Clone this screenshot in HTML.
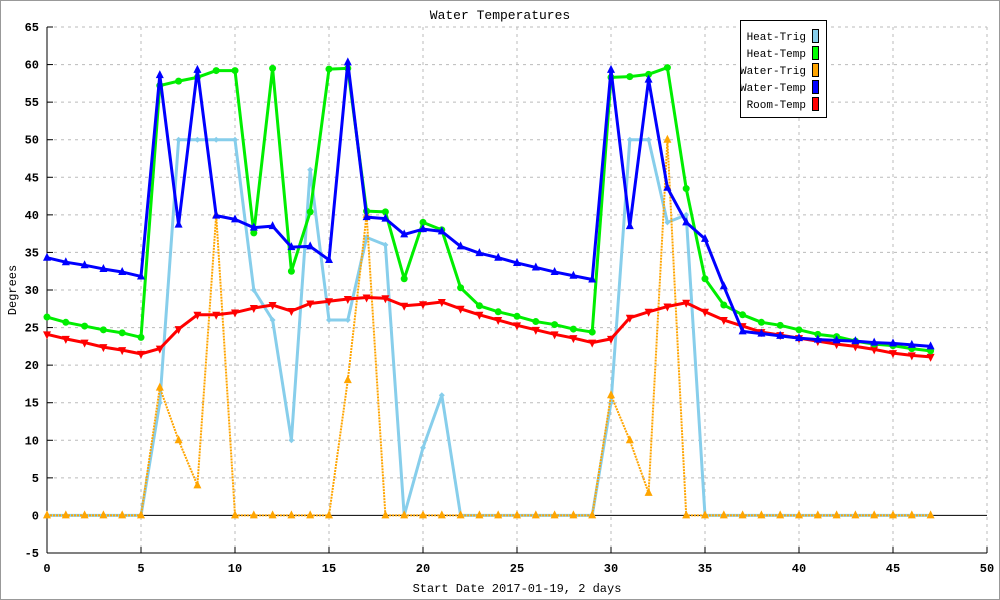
<!DOCTYPE html>
<html><head><meta charset="utf-8"><style>
body{margin:0;background:#fff}
svg{display:block;font-family:"Liberation Mono",monospace}
</style></head><body>
<svg id="chart" width="1000" height="600" xmlns="http://www.w3.org/2000/svg">
<rect x="0.5" y="0.5" width="999" height="599" fill="#fff" stroke="#999"/>
<text x="500" y="19" text-anchor="middle" font-size="13">Water Temperatures</text>
<g id="grid"></g>
<g id="axes"></g>
<g id="series"></g>
<text x="517" y="592" text-anchor="middle" font-size="12">Start Date 2017-01-19, 2 days</text>
<text transform="translate(16,290) rotate(-90)" text-anchor="middle" font-size="12">Degrees</text>
<g id="legend"></g>
</svg>
<script>
const xTicks=[0,5,10,15,20,25,30,35,40,45,50];
const yTicks=[-5,0,5,10,15,20,25,30,35,40,45,50,55,60,65];
const heatTrig=[0,0,0,0,0,0,15,50,50,50,50,30,26,10,46,26,26,37,36,0,9,16,0,0,0,0,0,0,0,0,15,50,50,39,40,0,0,0,0,0,0,0,0,0,0,0,0,0];
const heatTemp=[26.4,25.7,25.2,24.7,24.3,23.7,57.2,57.8,58.3,59.2,59.2,37.6,59.5,32.5,40.4,59.4,59.5,40.5,40.4,31.5,39,38,30.3,27.9,27.1,26.5,25.8,25.4,24.8,24.4,58.3,58.4,58.7,59.6,43.5,31.5,28,26.7,25.7,25.3,24.7,24.1,23.8,23.2,22.8,22.6,22.2,21.9];
const waterTrig=[0,0,0,0,0,0,17,10,4,40,0,0,0,0,0,0,18,40,0,0,0,0,0,0,0,0,0,0,0,0,16,10,3,50,0,0,0,0,0,0,0,0,0,0,0,0,0,0];
const waterTemp=[34.3,33.7,33.3,32.8,32.4,31.8,58.6,38.7,59.3,39.9,39.4,38.3,38.5,35.7,35.8,34,60.3,39.7,39.5,37.4,38.1,37.8,35.8,34.9,34.3,33.6,33,32.4,31.9,31.4,59.3,38.5,58,43.6,39,36.8,30.5,24.5,24.2,23.9,23.6,23.4,23.3,23.2,23,22.9,22.7,22.5];
const roomTemp=[24.1,23.5,23,22.4,22,21.5,22.2,24.8,26.7,26.7,27,27.6,28,27.2,28.2,28.5,28.8,29,28.9,27.9,28.1,28.4,27.5,26.7,26,25.3,24.7,24.1,23.6,23,23.5,26.3,27.1,27.8,28.3,27.1,26,25.2,24.4,24,23.6,23.2,22.8,22.5,22.1,21.6,21.3,21.1];
const legendNames=["Heat-Trig","Heat-Temp","Water-Trig","Water-Temp","Room-Temp"];

const NS="http://www.w3.org/2000/svg";
const X0=47,X1=987,Y0=553,Y1=27,XMIN=0,XMAX=50,YMIN=-5,YMAX=65;
const sx=v=>X0+(v-XMIN)/(XMAX-XMIN)*(X1-X0);
const sy=v=>Y0-(v-YMIN)/(YMAX-YMIN)*(Y0-Y1);
function mk(tag,attrs,parent){const e=document.createElementNS(NS,tag);for(const k in attrs)e.setAttribute(k,attrs[k]);parent.appendChild(e);return e;}
const grid=document.getElementById('grid'),axes=document.getElementById('axes'),ser=document.getElementById('series'),leg=document.getElementById('legend');

xTicks.forEach(t=>{
  if(t>0){const l=mk('line',{x1:sx(t),x2:sx(t),y1:Y1,y2:Y0,stroke:'#bbb','stroke-dasharray':'3,4'},grid);
  
  }
  const tk=mk('line',{x1:sx(t),x2:sx(t),y1:Y0,y2:Y0-6,stroke:'#000'},axes);
  
  
  const tx=mk('text',{x:sx(t),y:Y0+19,'text-anchor':'middle','font-size':'12','font-weight':'bold'},axes);
  tx.textContent=t;
  
  
});
yTicks.forEach(t=>{
  if(t!==0){const l=mk('line',{x1:X0,x2:X1,y1:sy(t),y2:sy(t),stroke:'#bbb','stroke-dasharray':'3,4'},grid);
  
  }
  const tk=mk('line',{x1:X0,x2:X0+6,y1:sy(t),y2:sy(t),stroke:'#000'},axes);
  
  
  const tx=mk('text',{x:X0-8,y:sy(t)+4,'text-anchor':'end','font-size':'12','font-weight':'bold'},axes);
  tx.textContent=t;
  
  
});
const zl=mk('line',{x1:X0,x2:X1,y1:sy(0),y2:sy(0),stroke:'#000'},axes);


const ya=mk('line',{x1:X0,x2:X0,y1:Y1,y2:Y0,stroke:'#000'},axes);


const xa=mk('line',{x1:X0,x2:X1,y1:Y0,y2:Y0,stroke:'#000'},axes);



function marker(type,x,y,color,g){
  let e;
  if(type==='circle')e=mk('circle',{cx:x,cy:y,r:3.5,fill:color},g);
  else if(type==='up')e=mk('polygon',{points:`${x},${y-5} ${x-4},${y+3} ${x+4},${y+3}`,fill:color},g);
  else if(type==='down')e=mk('polygon',{points:`${x},${y+5} ${x-4},${y-3} ${x+4},${y-3}`,fill:color},g);
  else e=mk('polygon',{points:`${x},${y-3} ${x-3},${y} ${x},${y+3} ${x+3},${y}`,fill:color},g);
  return e;
}
function drawSeries(vals,color,width,dash,mtype,name){
  const g=mk('g',{},ser);
  
  
  const pts=vals.map((v,i)=>sx(i)+','+sy(v)).join(' ');
  const a={points:pts,fill:'none',stroke:color,'stroke-width':width,'stroke-linejoin':'round'};
  if(dash)a['stroke-dasharray']=dash;
  const pl=mk('polyline',a,g);
  
  
  vals.forEach((v,i)=>{
    const m=marker(mtype,sx(i),sy(v),color,g);
    
    
  });
}
drawSeries(heatTrig,'#87ceeb',3,null,'diamond','heat-trig');
drawSeries(waterTrig,'#ffa500',2,'2,1','up','water-trig');
drawSeries(roomTemp,'#ff0000',3,null,'down','room-temp');
drawSeries(heatTemp,'#00ee00',3,null,'circle','heat-temp');
drawSeries(waterTemp,'#0000ff',3,null,'up','water-temp');

const colors=['#87ceeb','#00ff00','#ffa500','#0000ff','#ff0000'];
const box=mk('rect',{x:740.5,y:20.5,width:86,height:97,fill:'#fff',stroke:'#000'},leg);


legendNames.forEach((n,i)=>{
  const y=36+i*17;
  const t=mk('text',{x:806,y:y+4,'text-anchor':'end','font-size':'11'},leg);
  t.textContent=n;
  
  
  const s=mk('rect',{x:812.5,y:y-6.5,width:6,height:13,fill:colors[i],stroke:'#000'},leg);
  
  
});
</script>
</body></html>
